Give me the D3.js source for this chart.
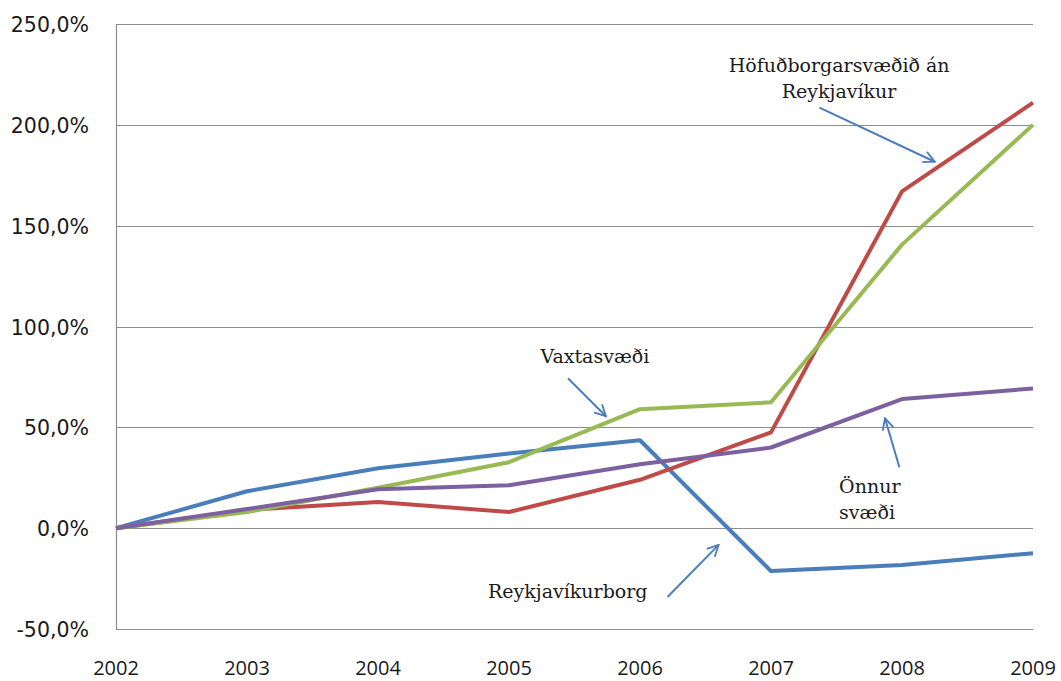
<!DOCTYPE html>
<meta charset="utf-8">
<html>
<head>
	<title>Verðbreyting eftir svæðum 2002-2009</title>
	<script type="text/javascript" src="https://d3js.org/d3.v7.min.js"></script>
	<style>
		body { margin: 0; background: #fff; }
		.ylab { font-family: "DejaVu Sans", Verdana, sans-serif; font-size: 20.5px; fill: #1a1a1a; }
		.xlab { font-family: "Open Sans", "Liberation Sans", sans-serif; font-size: 20px; fill: #1a1a1a; }
		.note { font-family: "DejaVu Serif", serif; font-size: 19px; fill: #1a1a1a; }
	</style>
</head>
<body>
	<div id="chart"></div>
	<script>
		// data
		var years = [2002, 2003, 2004, 2005, 2006, 2007, 2008, 2009];
		var yTicks = [-50, 0, 50, 100, 150, 200, 250];
		var reykjavik = [0, 18.3, 29.7, 37, 43.6, -21.3, -18.3, -12.4];
		var hofudborg = [0, 9, 13, 8, 24, 47.5, 167, 211];
		var vaxtasvaedi = [0, 8, 20, 32.7, 59, 62.4, 140.6, 200];
		var onnur = [0, 9.5, 19.3, 21.3, 31.7, 40, 64, 69.3];

		var series = [
			{ name: "Reykjavíkurborg", values: reykjavik, color: "#4a7ebb" },
			{ name: "Höfuðborgarsvæðið án Reykjavíkur", values: hofudborg, color: "#be4b48" },
			{ name: "Vaxtasvæði", values: vaxtasvaedi, color: "#98b954" },
			{ name: "Önnur svæði", values: onnur, color: "#7d60a0" }
		];

		// notes: text lines, anchor, and arrow (tail -> head) in data units
		var notes = [
			{ lines: ["Höfuðborgarsvæðið án", "Reykjavíkur"], x: 2007.52, y: 226, anchor: "middle",
				arrow: [[2007.37, 208.5], [2008.25, 181.7]] },
			{ lines: ["Vaxtasvæði"], x: 2005.24, y: 82, anchor: "start",
				arrow: [[2005.45, 74.3], [2005.74, 55.5]] },
			{ lines: ["Önnur", "svæði"], x: 2007.52, y: 17.5, anchor: "start",
				arrow: [[2007.98, 30.2], [2007.87, 54.5]] },
			{ lines: ["Reykjavíkurborg"], x: 2004.84, y: -34.5, anchor: "start",
				arrow: [[2006.21, -34.1], [2006.6, -8.3]] }
		];

		var w = 1061, h = 681;
		var mLeft = 116, mRight = 1033, mTop = 24, mBottom = 629;

		var svg = d3.select("#chart").append("svg")
			.attr("width", w).attr("height", h);

		var x = d3.scaleLinear().domain([2002, 2009]).range([mLeft, mRight]);
		var y = d3.scaleLinear().domain([-50, 250]).range([mBottom, mTop]);

		// gridlines
		svg.append("g")
			.selectAll("line")
			.data(yTicks).enter()
			.append("line")
			.attr("x1", mLeft).attr("x2", mRight)
			.attr("y1", d => Math.round(y(d)) + 0.5)
			.attr("y2", d => Math.round(y(d)) + 0.5)
			.style("stroke", "#8c8c8c")
			.style("stroke-width", 1.2);

		// left axis line
		svg.append("line")
			.attr("x1", mLeft + 0.5).attr("x2", mLeft + 0.5)
			.attr("y1", y(250)).attr("y2", y(-50))
			.style("stroke", "#8c8c8c")
			.style("stroke-width", 1.2);

		// excel style: comma decimal, plain hyphen for minus
		var fmt = d => d.toFixed(1).replace(".", ",") + "%";

		svg.append("g")
			.selectAll("text")
			.data(yTicks).enter()
			.append("text")
			.attr("class", "ylab")
			.attr("x", 89)
			.attr("y", d => y(d) + 8)
			.attr("text-anchor", "end")
			.text(fmt);

		svg.append("g")
			.selectAll("text")
			.data(years).enter()
			.append("text")
			.attr("class", "xlab")
			.attr("x", d => x(d))
			.attr("y", 675)
			.attr("text-anchor", "middle")
			.text(d => d);

		var line = d3.line()
			.x((d, i) => x(years[i]))
			.y(d => y(d));

		svg.append("g")
			.selectAll("path")
			.data(series).enter()
			.append("path")
			.attr("d", d => line(d.values))
			.style("fill", "none")
			.style("stroke", d => d.color)
			.style("stroke-width", 4)
			.style("stroke-linejoin", "round");

		// arrowhead
		svg.append("defs").append("marker")
			.attr("id", "head")
			.attr("viewBox", "0 0 10 10")
			.attr("refX", 9).attr("refY", 5)
			.attr("markerWidth", 14).attr("markerHeight", 14)
			.attr("markerUnits", "userSpaceOnUse")
			.attr("orient", "auto")
			.append("path")
			.attr("d", "M1,1 L9,5 L1,9")
			.style("fill", "none")
			.style("stroke", "#4a7ebb")
			.style("stroke-width", 1.3);

		var g = svg.append("g");
		notes.forEach(function (n) {
			var t = g.append("text")
				.attr("class", "note")
				.attr("text-anchor", n.anchor);
			n.lines.forEach(function (l, i) {
				t.append("tspan")
					.attr("x", x(n.x))
					.attr("y", y(n.y) + i * 26)
					.text(l);
			});
			g.append("line")
				.attr("x1", x(n.arrow[0][0])).attr("y1", y(n.arrow[0][1]))
				.attr("x2", x(n.arrow[1][0])).attr("y2", y(n.arrow[1][1]))
				.style("stroke", "#4a7ebb")
				.style("stroke-width", 2)
				.attr("marker-end", "url(#head)");
		});
	</script>
</body>
</html>
